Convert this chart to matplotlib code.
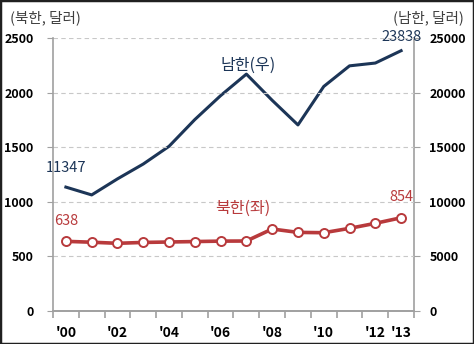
import matplotlib
matplotlib.use('Agg')
from matplotlib import pyplot as plt
import matplotlib.patches as mpatches
import numpy as np

plt.rcParams['font.family'] = ['Noto Sans CJK KR', 'DejaVu Sans']

# GNI per capita (USD)
years = np.arange(2000, 2014)
north = [638, 630, 620, 628, 632, 636, 640, 641, 751, 720, 717, 757, 803, 854]
south = [11347, 10631, 12100, 13460, 15082, 17531, 19722, 21695,
         19296, 17041, 20562, 22451, 22708, 23838]
tick_years = [2000, 2002, 2004, 2006, 2008, 2010, 2012, 2013]
tick_labels = ["'00", "'02", "'04", "'06", "'08", "'10", "'12", "'13"]

navy = '#1c3557'
red = '#b83a3c'
grey = '#a0a0a0'

fig = plt.figure(figsize=(4.74, 3.44), dpi=100)
ax = fig.add_axes([0.1118, 0.0959, 0.7616, 0.7936])
ax2 = ax.twinx()

ax.set_ylim(0, 2500)
ax2.set_ylim(0, 25000)
ax.set_xlim(1999.5, 2013.5)
ax.set_yticks(np.arange(0, 2501, 500))
ax2.set_yticks(np.arange(0, 25001, 5000))

ax.grid(axis='y', color='#c8c8c8', linestyle=(0, (4, 3)), linewidth=0.8)
ax.set_axisbelow(True)

for a in (ax, ax2):
    a.spines['top'].set_visible(False)
    for s in ('left', 'right', 'bottom'):
        a.spines[s].set_color(grey)
        a.spines[s].set_linewidth(1.2)
    a.tick_params(axis='y', length=4, color=grey, labelsize=9)
ax.tick_params(axis='y', pad=10)
ax2.tick_params(axis='y', pad=7)
ax.spines['right'].set_visible(False)
ax2.spines['left'].set_visible(False)

for lab in ax.get_yticklabels() + ax2.get_yticklabels():
    lab.set_fontweight('bold')

ax.set_xticks(tick_years)
ax.set_xticklabels(tick_labels, fontsize=10, fontweight='bold')
ax.set_xticks(np.arange(1999.5, 2014, 1), minor=True)
ax.tick_params(axis='x', which='major', length=0, pad=11)
ax.tick_params(axis='x', which='minor', length=5, color=grey, width=1.2)

# North Korea on left, South Korea on right
ax2.plot(years, south, color=navy, linewidth=2.2, zorder=3)
ax.plot(years, north, color=red, linewidth=2.6, marker='o', markersize=6.5,
        markerfacecolor='white', markeredgecolor=red, markeredgewidth=1.4, zorder=4)
ax.set_zorder(ax2.get_zorder() + 1)
ax.patch.set_visible(False)

ax2.annotate('11347', (years[0], south[0]), xytext=(0, 14), textcoords='offset points',
             ha='center', va='center', color=navy, fontsize=10.5)
ax2.annotate('23838', (years[-1], south[-1]), xytext=(0, 10), textcoords='offset points',
             ha='center', va='center', color=navy, fontsize=10.5)
ax.annotate('638', (years[0], north[0]), xytext=(0, 14.5), textcoords='offset points',
            ha='center', va='center', color=red, fontsize=10.5)
ax.annotate('854', (years[-1], north[-1]), xytext=(0, 15), textcoords='offset points',
            ha='center', va='center', color=red, fontsize=10.5)
ax2.text(2007.05, 22500, '남한(우)', ha='center', va='center', color=navy, fontsize=11.5)
ax.text(2006.85, 943, '북한(좌)', ha='center', va='center', color=red, fontsize=11.5)

fig.text(0.021, 0.948, '(북한, 달러)', ha='left', va='center', color='#404040', fontsize=10.5)
fig.text(0.979, 0.948, '(남한, 달러)', ha='right', va='center', color='#404040', fontsize=10.5)

fig.patches.append(mpatches.Rectangle((0, 0), 1, 1, transform=fig.transFigure, fill=False,
                                      edgecolor='#202020', linewidth=2.5))

fig.savefig('out.png', dpi=100)
